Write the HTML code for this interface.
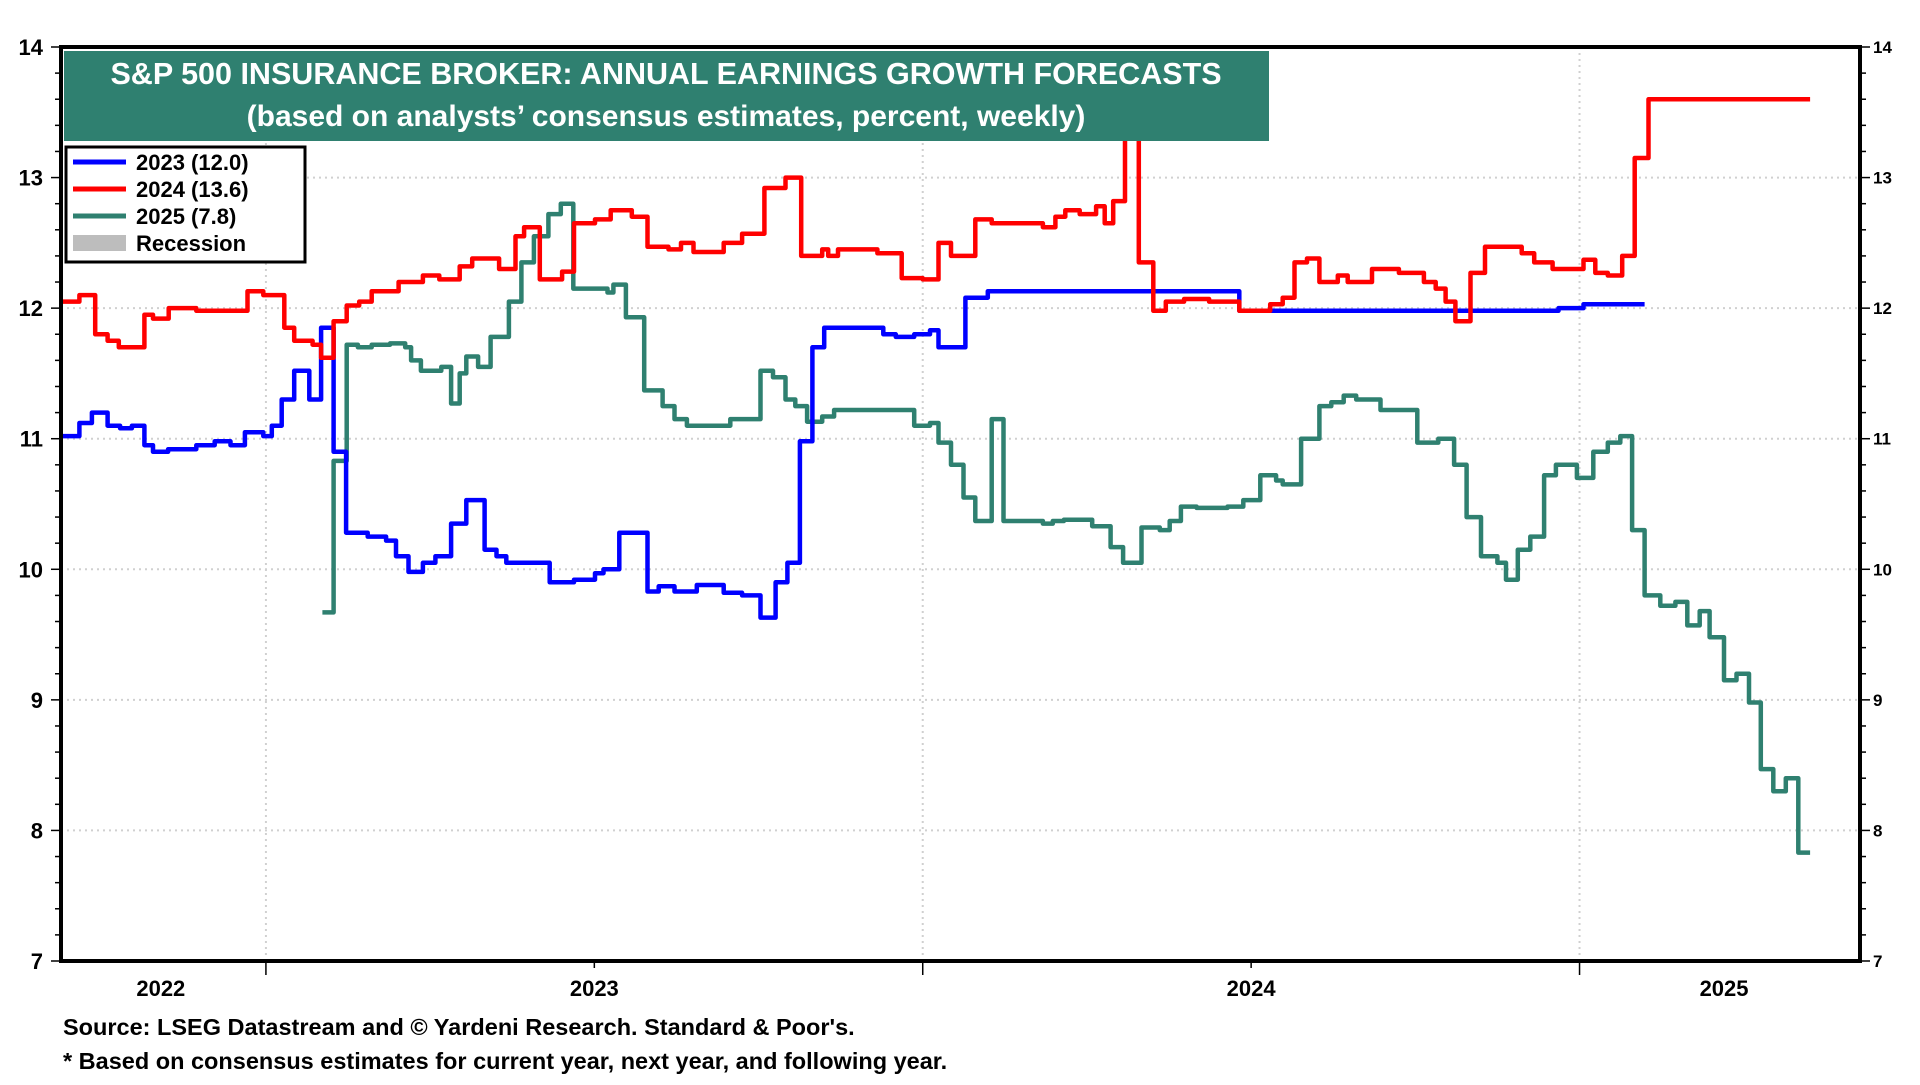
<!DOCTYPE html>
<html><head><meta charset="utf-8"><style>
html,body{margin:0;padding:0;background:#fff;}
body{width:1920px;height:1080px;overflow:hidden;font-family:"Liberation Sans",Arial,sans-serif;}
svg text{font-family:"Liberation Sans",Arial,sans-serif;font-weight:bold;}
</style></head><body>
<svg id="chart" width="1920" height="1080" viewBox="0 0 1920 1080" xmlns="http://www.w3.org/2000/svg">
<g id="grid"></g>
<g id="series"></g>
<rect x="61" y="47" width="1799" height="914" fill="none" stroke="#000" stroke-width="4"/>
<g id="axes"></g>
<g>
<rect x="64" y="51" width="1205" height="90" fill="#2f8070"/>
<text x="666" y="84" fill="#fff" font-size="30.5" text-anchor="middle">S&amp;P 500 INSURANCE BROKER: ANNUAL EARNINGS GROWTH FORECASTS</text>
<text x="666" y="126" fill="#fff" font-size="30" text-anchor="middle">(based on analysts’ consensus estimates, percent, weekly)</text>
</g>
<g>
<rect x="66" y="147" width="239" height="115" fill="#fff" stroke="#000" stroke-width="3"/>
<g><line x1="73" y1="162" x2="126" y2="162" stroke="#0000ff" stroke-width="5"/><text x="136" y="170" font-size="22">2023 (12.0)</text></g>
<g><line x1="73" y1="189" x2="126" y2="189" stroke="#ff0000" stroke-width="5"/><text x="136" y="197" font-size="22">2024 (13.6)</text></g>
<g><line x1="73" y1="216" x2="126" y2="216" stroke="#2f8070" stroke-width="5"/><text x="136" y="224" font-size="22">2025 (7.8)</text></g>
<g><rect x="73" y="235" width="53" height="16" fill="#bdbdbd"/><text x="136" y="251" font-size="22">Recession</text></g>
</g>
<text x="63" y="1035" font-size="23.5">Source: LSEG Datastream and © Yardeni Research. Standard &amp; Poor's.</text>
<text x="63" y="1069" font-size="23.5">* Based on consensus estimates for current year, next year, and following year.</text>
</svg>
<script>
const yTicks=[7,8,9,10,11,12,13,14];
const yearTicks=[2023,2024,2025];
const yearLabels=["2022","2023","2024","2025"];
const yearLabelPos=[2022.84,2023.5,2024.5,2025.22];
const d2023=[2022.688,2022.716,2022.735,2022.759,2022.778,2022.796,2022.815,2022.828,2022.851,2022.894,2022.922,2022.946,2022.968,2022.996,2023.009,2023.024,2023.043,2023.066,2023.084,2023.103,2023.122,2023.155,2023.183,2023.198,2023.217,2023.239,2023.258,2023.282,2023.305,2023.333,2023.351,2023.366,2023.432,2023.469,2023.501,2023.514,2023.538,2023.581,2023.598,2023.622,2023.656,2023.697,2023.725,2023.753,2023.776,2023.794,2023.813,2023.832,2023.850,2023.940,2023.959,2023.987,2024.011,2024.024,2024.065,2024.099,2024.482,2024.968,2025.006];
const v2023=[11.02,11.12,11.2,11.1,11.08,11.1,10.95,10.9,10.92,10.95,10.98,10.95,11.05,11.02,11.1,11.3,11.52,11.3,11.85,10.9,10.28,10.25,10.22,10.1,9.98,10.05,10.1,10.35,10.53,10.15,10.1,10.05,9.9,9.92,9.97,10.0,10.28,9.83,9.87,9.83,9.88,9.82,9.8,9.63,9.9,10.05,10.98,11.7,11.85,11.8,11.78,11.8,11.83,11.7,12.08,12.13,11.98,12.0,12.03];
const end2023=2025.099;
const d2024=[2022.688,2022.716,2022.740,2022.759,2022.776,2022.815,2022.828,2022.852,2022.894,2022.972,2022.996,2023.028,2023.043,2023.071,2023.084,2023.103,2023.123,2023.142,2023.161,2023.202,2023.239,2023.264,2023.295,2023.314,2023.355,2023.380,2023.393,2023.417,2023.451,2023.469,2023.501,2023.525,2023.557,2023.581,2023.613,2023.632,2023.651,2023.697,2023.725,2023.759,2023.791,2023.815,2023.847,2023.856,2023.871,2023.931,2023.968,2024.000,2024.024,2024.043,2024.080,2024.105,2024.183,2024.202,2024.217,2024.239,2024.264,2024.277,2024.290,2024.308,2024.329,2024.351,2024.370,2024.398,2024.436,2024.482,2024.529,2024.548,2024.566,2024.585,2024.604,2024.632,2024.647,2024.684,2024.725,2024.763,2024.781,2024.796,2024.811,2024.834,2024.856,2024.912,2024.931,2024.959,2025.006,2025.024,2025.043,2025.065,2025.084,2025.105];
const v2024=[12.05,12.1,11.8,11.75,11.7,11.95,11.92,12.0,11.98,12.13,12.1,11.85,11.75,11.72,11.62,11.9,12.02,12.05,12.13,12.2,12.25,12.22,12.32,12.38,12.3,12.55,12.62,12.22,12.28,12.65,12.68,12.75,12.7,12.47,12.45,12.5,12.43,12.5,12.57,12.92,13.0,12.4,12.45,12.4,12.45,12.42,12.23,12.22,12.5,12.4,12.68,12.65,12.62,12.7,12.75,12.72,12.78,12.65,12.82,13.4,12.35,11.98,12.05,12.07,12.05,11.98,12.03,12.08,12.35,12.38,12.2,12.25,12.2,12.3,12.27,12.2,12.15,12.05,11.9,12.27,12.47,12.42,12.35,12.3,12.37,12.27,12.25,12.4,13.15,13.6];
const end2024=2025.351;
const d2025=[2023.086,2023.103,2023.123,2023.140,2023.161,2023.189,2023.212,2023.221,2023.236,2023.267,2023.282,2023.295,2023.305,2023.323,2023.342,2023.370,2023.389,2023.408,2023.430,2023.449,2023.468,2023.520,2023.529,2023.548,2023.576,2023.604,2023.622,2023.641,2023.707,2023.753,2023.772,2023.791,2023.806,2023.824,2023.847,2023.865,2023.987,2024.011,2024.024,2024.043,2024.062,2024.080,2024.105,2024.123,2024.183,2024.198,2024.215,2024.258,2024.286,2024.305,2024.333,2024.361,2024.376,2024.393,2024.417,2024.464,2024.488,2024.514,2024.538,2024.548,2024.576,2024.604,2024.622,2024.641,2024.660,2024.697,2024.753,2024.785,2024.809,2024.828,2024.850,2024.875,2024.888,2024.906,2024.925,2024.946,2024.964,2024.996,2025.021,2025.043,2025.062,2025.080,2025.099,2025.123,2025.146,2025.164,2025.183,2025.198,2025.220,2025.239,2025.258,2025.276,2025.295,2025.314,2025.333];
const v2025=[9.67,10.83,11.72,11.7,11.72,11.73,11.7,11.6,11.52,11.55,11.27,11.5,11.63,11.55,11.78,12.05,12.35,12.55,12.72,12.8,12.15,12.12,12.18,11.93,11.37,11.25,11.15,11.1,11.15,11.52,11.47,11.3,11.25,11.13,11.17,11.22,11.1,11.12,10.97,10.8,10.55,10.37,11.15,10.37,10.35,10.37,10.38,10.33,10.17,10.05,10.32,10.3,10.37,10.48,10.47,10.48,10.53,10.72,10.68,10.65,11.0,11.25,11.28,11.33,11.3,11.22,10.97,11.0,10.8,10.4,10.1,10.05,9.92,10.15,10.25,10.72,10.8,10.7,10.9,10.97,11.02,10.3,9.8,9.72,9.75,9.57,9.68,9.48,9.15,9.2,8.98,8.47,8.3,8.4,7.83];
const end2025=2025.351;

const X0=61,X1=1860,Y0=47,Y1=961,TMIN=2022.688,TMAX=2025.427,VMIN=7,VMAX=14;
function xs(t){return X0+(t-TMIN)/(TMAX-TMIN)*(X1-X0);}
function ys(v){return Y1-(v-VMIN)/(VMAX-VMIN)*(Y1-Y0);}
const NS="http://www.w3.org/2000/svg";
function mk(tag,parent,attrs){const e=document.createElementNS(NS,tag);for(const k in attrs)e.setAttribute(k,attrs[k]);parent.appendChild(e);return e;}
const grid=document.getElementById('grid'),axes=document.getElementById('axes'),series=document.getElementById('series');
yTicks.forEach(v=>{
  if(v>VMIN&&v<VMAX){const g=mk('line',grid,{x1:X0,x2:X1,y1:ys(v),y2:ys(v),stroke:'#d0d0d0','stroke-width':2,'stroke-dasharray':'2,4'});
  
  }
  const l=mk('text',axes,{x:43,y:ys(v)+8,'font-size':22,'text-anchor':'end'});l.textContent=v;
  
  
  const r=mk('text',axes,{x:1873,y:ys(v)+6,'font-size':17});r.textContent=v;
  
  
});
for(let v=VMIN;v<=VMAX+0.001;v+=0.2){
  const maj=Math.abs(v-Math.round(v))<0.01, len=maj?10:6;
  mk('line',axes,{x1:X0-len,x2:X0,y1:ys(v),y2:ys(v),stroke:'#000','stroke-width':1.5});
  mk('line',axes,{x1:X1,x2:X1+len,y1:ys(v),y2:ys(v),stroke:'#000','stroke-width':1.5});
}
yearTicks.forEach(t=>{
  const g=mk('line',grid,{x1:xs(t),x2:xs(t),y1:Y0,y2:Y1,stroke:'#d0d0d0','stroke-width':2,'stroke-dasharray':'2,4'});
  
  
  mk('line',axes,{x1:xs(t),x2:xs(t),y1:Y1,y2:Y1+14,stroke:'#000','stroke-width':1.5});
  mk('line',axes,{x1:xs(t-0.5),x2:xs(t-0.5),y1:Y1,y2:Y1+7,stroke:'#000','stroke-width':1.5});
});
yearLabels.forEach((s,i)=>{
  const l=mk('text',axes,{x:xs(yearLabelPos[i]),y:996,'font-size':22,'text-anchor':'middle'});l.textContent=s;
  
  
});
function stepPath(d,v,end){let p='M'+xs(d[0]).toFixed(1)+' '+ys(v[0]).toFixed(1);
  for(let i=1;i<d.length;i++){p+=' H'+xs(d[i]).toFixed(1)+' V'+ys(v[i]).toFixed(1);}
  p+=' H'+xs(end).toFixed(1);return p;}
const s25=mk('path',series,{d:stepPath(d2025,v2025,end2025),fill:'none',stroke:'#2f8070','stroke-width':4.5,'stroke-linejoin':'round'});


const s23=mk('path',series,{d:stepPath(d2023,v2023,end2023),fill:'none',stroke:'#0000ff','stroke-width':4.5,'stroke-linejoin':'round'});


const s24=mk('path',series,{d:stepPath(d2024,v2024,end2024),fill:'none',stroke:'#ff0000','stroke-width':4.5,'stroke-linejoin':'round'});


</script>
</body></html>
